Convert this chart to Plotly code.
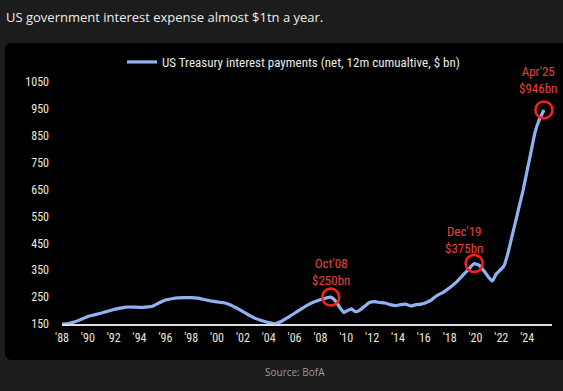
import plotly.graph_objects as go

years = [1988.0, 1988.5, 1989.0, 1989.5, 1990.0, 1990.5, 1991.0, 1991.5, 1992.0, 1992.5,
         1993.0, 1993.5, 1994.0, 1994.5, 1995.0, 1995.5, 1996.0, 1996.5, 1997.0, 1997.5,
         1998.0, 1998.5, 1999.0, 1999.5, 2000.0, 2000.5, 2001.0, 2001.5, 2002.0, 2002.5,
         2003.0, 2003.5, 2004.0, 2004.5, 2005.0, 2005.5, 2006.0, 2006.5, 2007.0, 2007.5,
         2008.0, 2008.4, 2008.8, 2009.1, 2009.5, 2009.8, 2010.1, 2010.4, 2010.7, 2011.0,
         2011.4, 2011.8, 2012.2, 2012.6, 2013.0, 2013.4, 2013.8, 2014.2, 2014.6, 2015.0,
         2015.4, 2015.8, 2016.2, 2016.6, 2017.0, 2017.5, 2018.0, 2018.5, 2019.0, 2019.5,
         2019.9, 2020.3, 2020.7, 2021.0, 2021.3, 2021.6, 2021.9, 2022.2, 2022.5, 2022.8,
         2023.1, 2023.4, 2023.7, 2024.0, 2024.3, 2024.6, 2024.9, 2025.3]
payments = [150, 152, 158, 168, 178, 184, 190, 197, 204, 209,
            213, 213, 212, 213, 216, 228, 239, 244, 247, 248,
            248, 246, 241, 236, 232, 229, 222, 210, 196, 182,
            170, 162, 155, 151, 160, 175, 190, 205, 220, 232,
            240, 246, 250, 240, 212, 193, 200, 206, 196, 200,
            215, 230, 233, 230, 228, 222, 218, 222, 224, 217,
            222, 224, 230, 240, 255, 268, 285, 305, 330, 355,
            375, 368, 345, 325, 310, 335, 350, 365, 410, 470,
            530, 590, 650, 720, 790, 860, 905, 946]

tick_years = list(range(1988, 2025, 2))
tick_text = ["'" + str(y)[2:] for y in tick_years]
y_ticks = list(range(150, 1051, 100))

ann_x = [2008.8, 2019.9, 2025.3]
ann_y = [250, 375, 946]
ann_text = ["Oct'08<br>$250bn", "Dec'19<br>$375bn", "Apr'25<br>$946bn"]
ann_shift = [(0, 25), (-10, 24), (-6, 30)]

cond = "Roboto Condensed, Liberation Sans Narrow, Roboto, sans-serif"

fig = go.Figure()
fig.add_trace(go.Scatter(
    x=years, y=payments, mode="lines",
    line=dict(color="#8fb3f2", width=3.2, shape="spline", smoothing=0.4),
    name="US Treasury interest payments (net, 12m cumualtive, $ bn)",
    showlegend=True,
))
fig.add_trace(go.Scatter(
    x=ann_x, y=ann_y, mode="markers",
    marker=dict(size=17, color="rgba(0,0,0,0)", line=dict(color="#ff1e1e", width=2.5)),
    showlegend=False, hoverinfo="skip", cliponaxis=False,
))
for x, y, t, (dx, dy) in zip(ann_x, ann_y, ann_text, ann_shift):
    fig.add_annotation(x=x, y=y, text=t, showarrow=False, yshift=dy, xshift=dx,
                       font=dict(color="#e8423f", size=13, family=cond),
                       align="center")

L, R, T, B = 62, 11, 82, 67
W, H = 563, 391
pw, ph = W - L - R, H - T - B


def px(x):
    return (x - L) / pw


def py(y):
    return (H - y - B) / ph


# rounded black panel
r = 7
x0, x1, y0, y1 = 5, 570, 43, 360
path = (f"M {px(x0 + r)},{py(y0)} L {px(x1 - r)},{py(y0)} "
        f"Q {px(x1)},{py(y0)} {px(x1)},{py(y0 + r)} L {px(x1)},{py(y1 - r)} "
        f"Q {px(x1)},{py(y1)} {px(x1 - r)},{py(y1)} L {px(x0 + r)},{py(y1)} "
        f"Q {px(x0)},{py(y1)} {px(x0)},{py(y1 - r)} L {px(x0)},{py(y0 + r)} "
        f"Q {px(x0)},{py(y0)} {px(x0 + r)},{py(y0)} Z")
fig.add_shape(type="path", xref="paper", yref="paper", path=path,
              fillcolor="#000000", line=dict(width=0), layer="below")

fig.add_annotation(xref="paper", yref="paper", x=px(4), y=py(17),
                   xanchor="left", yanchor="middle", showarrow=False,
                   text="US government interest expense almost $1tn a year.",
                   font=dict(color="#ececec", size=13, family="Open Sans, sans-serif"))
fig.add_annotation(xref="paper", yref="paper", x=px(295), y=py(372),
                   xanchor="center", yanchor="middle", showarrow=False,
                   text="Source: BofA",
                   font=dict(color="#9a9a9a", size=10, family="Open Sans, sans-serif"))

tick_font = dict(color="#efe6d6", size=12, family=cond)
fig.update_layout(
    width=W, height=H,
    margin=dict(l=L, r=R, t=T, b=B),
    paper_bgcolor="#1c1c1c", plot_bgcolor="#000000",
    showlegend=True,
    legend=dict(x=px(122), y=py(62), xanchor="left", yanchor="middle",
                bgcolor="rgba(0,0,0,0)", font=dict(color="#e8e8e8", size=13, family=cond),
                itemwidth=30),
    xaxis=dict(range=[1988, 1988 + pw / 12.92], tickvals=tick_years, ticktext=tick_text,
               showgrid=False, zeroline=False, showline=True, linecolor="#dddddd", linewidth=1.5,
               ticks="", tickfont=tick_font, ticklabelstandoff=2),
    yaxis=dict(range=[150, 1050], tickvals=y_ticks, showgrid=False, zeroline=False,
               showline=False, ticks="", tickfont=tick_font, ticklabelstandoff=12),
)
fig.write_html("out.html", config={"displayModeBar": False},
               post_script="document.body.style.margin='0';document.body.style.overflow='hidden';")
